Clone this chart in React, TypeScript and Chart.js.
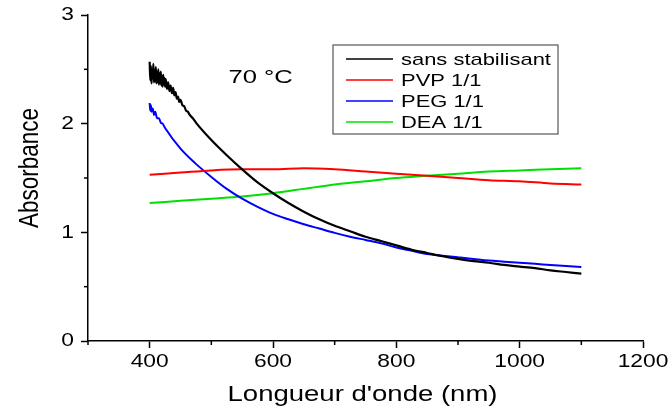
import React, { useEffect, useRef } from "react";
import { Chart, registerables } from "chart.js";
Chart.register(...registerables);

const FONT = '"Liberation Sans", Arial, sans-serif';

const seriesLabels = ["sans stabilisant", "PVP 1/1", "PEG 1/1", "DEA 1/1"];
const seriesColors = ["#000000", "#ff0000", "#0000ff", "#00e000"];

const blackX = [400, 401, 402, 403, 404, 405, 406, 407, 408, 409, 410, 411, 412, 413, 414, 415, 416, 417, 418, 419, 420, 421, 422, 423, 424, 425, 426, 428, 430, 432, 434, 436, 438, 440, 442, 444, 446, 448, 450, 453, 456, 459, 462, 465, 470, 475, 500, 525, 550, 575, 600, 625, 650, 675, 700, 725, 750, 775, 800, 825, 850, 875, 900, 925, 950, 975, 1000, 1025, 1050, 1075, 1100];
const blackY = [2.57, 2.40, 2.53, 2.37, 2.50, 2.42, 2.55, 2.38, 2.49, 2.39, 2.52, 2.37, 2.47, 2.38, 2.50, 2.36, 2.46, 2.37, 2.48, 2.35, 2.44, 2.34, 2.45, 2.36, 2.42, 2.34, 2.41, 2.32, 2.38, 2.30, 2.35, 2.28, 2.33, 2.26, 2.29, 2.23, 2.25, 2.20, 2.22, 2.17, 2.16, 2.12, 2.11, 2.08, 2.05, 2.01, 1.85, 1.71, 1.58, 1.46, 1.36, 1.27, 1.19, 1.12, 1.06, 1.01, 0.96, 0.92, 0.88, 0.84, 0.81, 0.78, 0.755, 0.735, 0.72, 0.70, 0.685, 0.67, 0.65, 0.635, 0.62];

const redX = [400, 450, 500, 550, 600, 650, 700, 750, 800, 850, 900, 950, 1000, 1050, 1100];
const redY = [1.53, 1.55, 1.57, 1.58, 1.58, 1.59, 1.58, 1.56, 1.54, 1.52, 1.50, 1.48, 1.47, 1.45, 1.44];

const blueX = [400, 401, 402, 403, 405, 407, 409, 412, 415, 418, 421, 425, 450, 475, 500, 525, 550, 575, 600, 625, 650, 675, 700, 725, 750, 775, 800, 825, 850, 875, 900, 925, 950, 975, 1000, 1025, 1050, 1075, 1100];
const blueY = [2.19, 2.12, 2.17, 2.11, 2.14, 2.08, 2.11, 2.05, 2.05, 2.01, 2.00, 1.96, 1.77, 1.63, 1.51, 1.40, 1.31, 1.235, 1.17, 1.12, 1.075, 1.035, 0.995, 0.96, 0.93, 0.90, 0.86, 0.83, 0.80, 0.785, 0.77, 0.755, 0.74, 0.73, 0.72, 0.71, 0.70, 0.69, 0.68];

const greenX = [400, 450, 500, 550, 600, 650, 700, 750, 800, 850, 900, 950, 1000, 1050, 1100];
const greenY = [1.27, 1.29, 1.31, 1.33, 1.36, 1.40, 1.44, 1.47, 1.50, 1.52, 1.54, 1.56, 1.57, 1.58, 1.59];

const xMajorTicks = [400, 600, 800, 1000, 1200];
const xMinorTicks = [300, 500, 700, 900, 1100];
const yMajorTicks = [0, 1, 2, 3];
const yMinorTicks = [0.5, 1.5, 2.5];

const xTitle = "Longueur d'onde (nm)";
const yTitle = "Absorbance";
const annotationText = "70 °C";
const annotationX = 580;
const annotationY = 2.42;

const zip = (xs: number[], ys: number[]) => xs.map((x, i) => ({ x, y: ys[i] }));

function drawText(
  ctx: CanvasRenderingContext2D,
  text: string,
  x: number,
  y: number,
  size: number,
  stretch: number,
  align: CanvasTextAlign,
  baseline: CanvasTextBaseline,
  rotate = 0
) {
  ctx.save();
  ctx.translate(x, y);
  if (rotate) {
    ctx.rotate(rotate);
    ctx.scale(1, stretch);
  } else {
    ctx.scale(stretch, 1);
  }
  ctx.font = `${size}px ${FONT}`;
  ctx.fillStyle = "#000";
  ctx.textAlign = align;
  ctx.textBaseline = baseline;
  ctx.fillText(text, 0, 0);
  ctx.restore();
}

const overlayPlugin = {
  id: "overlay",
  afterDraw(chart: any) {
    const { ctx, chartArea } = chart;
    const xs = chart.scales.x;
    const ys = chart.scales.y;
    ctx.save();
    ctx.strokeStyle = "#000";
    ctx.lineWidth = 1.5;
    xMinorTicks.forEach((v) => {
      const px = xs.getPixelForValue(v);
      ctx.beginPath();
      ctx.moveTo(px, chartArea.bottom);
      ctx.lineTo(px, chartArea.bottom + 4);
      ctx.stroke();
    });
    yMinorTicks.forEach((v) => {
      const py = ys.getPixelForValue(v);
      ctx.beginPath();
      ctx.moveTo(chartArea.left, py);
      ctx.lineTo(chartArea.left - 4, py);
      ctx.stroke();
    });
    xMajorTicks.forEach((v) => {
      drawText(ctx, String(v), xs.getPixelForValue(v), chartArea.bottom + 21, 19, 1.2, "center", "middle");
    });
    yMajorTicks.forEach((v) => {
      drawText(ctx, String(v), chartArea.left - 14, ys.getPixelForValue(v), 19, 1.2, "right", "middle");
    });
    drawText(ctx, xTitle, (chartArea.left + chartArea.right) / 2 - 3, chartArea.bottom + 60, 21.5, 1.28, "center", "alphabetic");
    drawText(ctx, yTitle, chartArea.left - 50, (chartArea.top + chartArea.bottom) / 2 - 10, 22.5, 1.2, "center", "alphabetic", -Math.PI / 2);
    drawText(ctx, annotationText, xs.getPixelForValue(annotationX), ys.getPixelForValue(annotationY), 17.7, 1.45, "center", "middle");
    const left = chartArea.left + 245;
    const top = chartArea.top + 30;
    const w = 225;
    const h = 89;
    ctx.strokeStyle = "#555";
    ctx.lineWidth = 1.2;
    ctx.fillStyle = "#fff";
    ctx.fillRect(left, top, w, h);
    ctx.strokeRect(left, top, w, h);
    chart.data.datasets.forEach((ds: any, i: number) => {
      const yy = top + 14 + i * 21;
      ctx.strokeStyle = ds.borderColor;
      ctx.lineWidth = 1.5;
      ctx.beginPath();
      ctx.moveTo(left + 13, yy);
      ctx.lineTo(left + 60, yy);
      ctx.stroke();
      drawText(ctx, ds.label, left + 68, yy + 1, 17, 1.29, "left", "middle");
    });
    ctx.restore();
  },
};

export default function App() {
  const ref = useRef<HTMLCanvasElement | null>(null);
  useEffect(() => {
    document.body.style.margin = "0";
    const canvas = ref.current!;
    const datasets = [
      [blackX, blackY],
      [redX, redY],
      [blueX, blueY],
      [greenX, greenY],
    ].map(([xs, ys], i) => ({
      label: seriesLabels[i],
      data: zip(xs as number[], ys as number[]),
      borderColor: seriesColors[i],
      backgroundColor: seriesColors[i],
      borderWidth: i === 0 ? 2.2 : 2,
      pointRadius: 0,
      cubicInterpolationMode: "monotone" as const,
      fill: false,
    }));
    const chart = new Chart(canvas, {
      type: "line",
      data: { datasets },
      plugins: [overlayPlugin],
      options: {
        animation: false,
        responsive: false,
        devicePixelRatio: 1,
        layout: { padding: { left: 0, top: 15, right: 27, bottom: 0 } },
        plugins: { legend: { display: false }, tooltip: { enabled: false } },
        scales: {
          x: {
            type: "linear",
            min: 300,
            max: 1200,
            afterBuildTicks: (s: any) => {
              s.ticks = xMajorTicks.map((v) => ({ value: v }));
            },
            afterFit: (s: any) => {
              s.height = 71;
            },
            grid: { display: true, drawOnChartArea: false, drawTicks: true, tickLength: 7, color: "#000", tickWidth: 1.5 },
            border: { display: true, color: "#000", width: 1.5 },
            ticks: { display: false },
            title: { display: false },
          },
          y: {
            type: "linear",
            min: 0,
            max: 3,
            afterBuildTicks: (s: any) => {
              s.ticks = yMajorTicks.map((v) => ({ value: v }));
            },
            afterFit: (s: any) => {
              s.width = 88;
            },
            grid: { display: true, drawOnChartArea: false, drawTicks: true, tickLength: 7, color: "#000", tickWidth: 1.5 },
            border: { display: true, color: "#000", width: 1.5 },
            ticks: { display: false },
            title: { display: false },
          },
        },
      },
    });
    return () => chart.destroy();
  }, []);
  return (
    <div style={{ width: 670, height: 412, position: "relative" }}>
      <canvas ref={ref} width={670} height={412} style={{ display: "block" }} />
    </div>
  );
}
